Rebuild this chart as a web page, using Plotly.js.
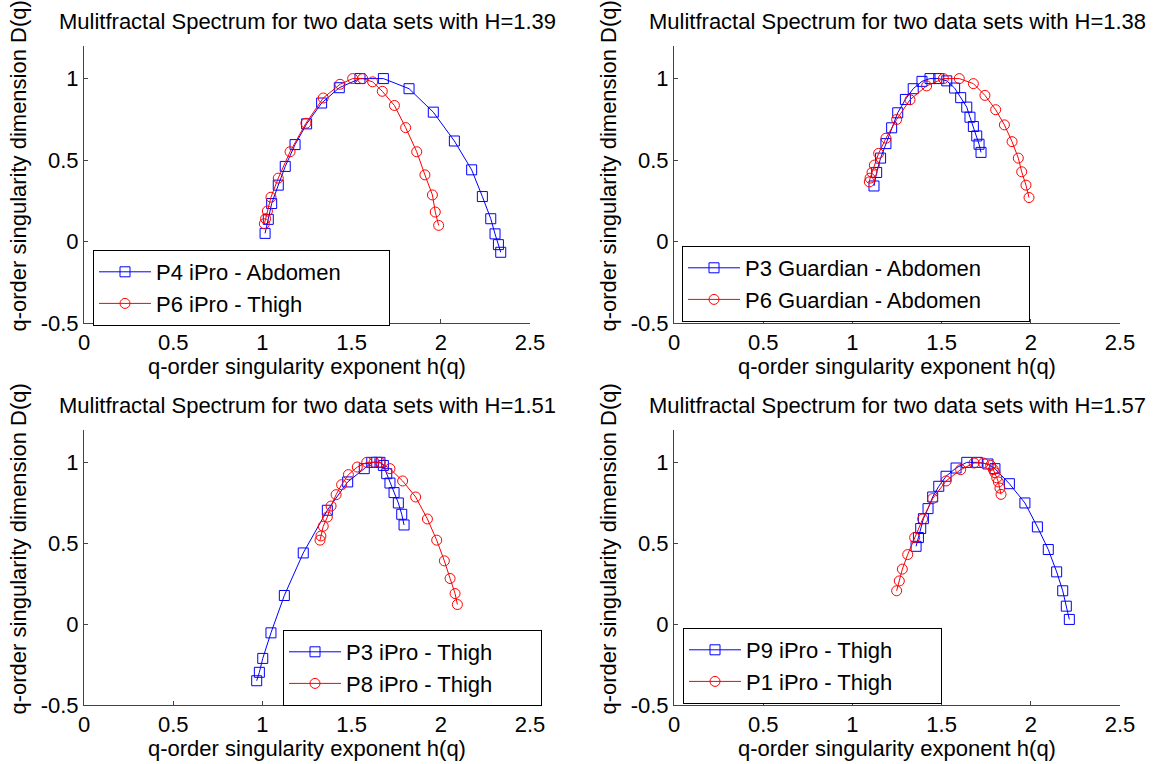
<!DOCTYPE html>
<html>
<head>
<meta charset="utf-8">
<script src="https://cdn.plot.ly/plotly-3.0.1.min.js"></script>
<style>html,body{margin:0;padding:0;background:#fff;}#chart{width:1156px;height:764px;}</style>
</head>
<body>
<div id="chart"></div>
<script>
// Panel titles and legend labels
const panelTitles = [
  "Mulitfractal Spectrum for two data sets with H=1.39",
  "Mulitfractal Spectrum for two data sets with H=1.38",
  "Mulitfractal Spectrum for two data sets with H=1.51",
  "Mulitfractal Spectrum for two data sets with H=1.57"
];
const blueNames = ["P4 iPro - Abdomen", "P3 Guardian - Abdomen", "P3 iPro - Thigh", "P9 iPro - Thigh"];
const redNames  = ["P6 iPro - Thigh", "P6 Guardian - Abdomen", "P8 iPro - Thigh", "P1 iPro - Thigh"];
const xTitle = "q-order singularity exponent h(q)";
const yTitle = "q-order singularity dimension D(q)";
const xTicks = [0, 0.5, 1, 1.5, 2, 2.5];
const yTicks = [-0.5, 0, 0.5, 1];

// Panel 1 (H=1.39)
const p1BlueH = [1.015,1.033,1.052,1.089,1.128,1.183,1.248,1.332,1.431,1.547,1.678,1.822,1.958,2.076,2.173,2.233,2.280,2.304,2.323,2.336];
const p1BlueD = [0.05,0.136,0.233,0.346,0.461,0.595,0.722,0.850,0.944,1.0,1.0,0.938,0.794,0.617,0.440,0.276,0.140,0.047,-0.019,-0.066];
const p1RedH  = [1.011,1.018,1.028,1.048,1.089,1.155,1.244,1.341,1.435,1.506,1.562,1.618,1.672,1.740,1.803,1.865,1.911,1.953,1.969,1.988];
const p1RedD  = [0.109,0.140,0.187,0.272,0.389,0.551,0.726,0.881,0.965,1.0,1.0,0.980,0.922,0.835,0.699,0.551,0.409,0.286,0.181,0.099];

// Panel 2 (H=1.38)
const p2BlueH = [1.121,1.136,1.158,1.188,1.220,1.254,1.297,1.341,1.390,1.435,1.484,1.529,1.573,1.607,1.641,1.659,1.678,1.697,1.710,1.721];
const p2BlueD = [0.341,0.424,0.512,0.601,0.698,0.790,0.872,0.938,0.983,1.0,1.0,0.986,0.942,0.883,0.825,0.763,0.706,0.648,0.597,0.547];
const p2RedH  = [1.095,1.099,1.110,1.123,1.147,1.188,1.248,1.323,1.416,1.510,1.599,1.678,1.743,1.803,1.852,1.895,1.930,1.949,1.973,1.990];
const p2RedD  = [0.366,0.389,0.424,0.469,0.541,0.634,0.749,0.870,0.955,1.0,1.0,0.969,0.897,0.809,0.716,0.613,0.512,0.428,0.346,0.270];

// Panel 3 (H=1.51)
const p3BlueH = [0.968,0.983,1.002,1.048,1.123,1.229,1.364,1.478,1.571,1.613,1.641,1.659,1.678,1.697,1.715,1.738,1.762,1.781,1.794];
const p3BlueD = [-0.350,-0.298,-0.212,-0.054,0.177,0.440,0.704,0.879,0.961,1.0,1.0,1.0,0.981,0.930,0.872,0.813,0.749,0.679,0.613];
const p3RedH  = [1.323,1.328,1.341,1.364,1.385,1.413,1.444,1.482,1.532,1.585,1.626,1.659,1.715,1.786,1.859,1.925,1.977,2.020,2.052,2.080,2.093];
const p3RedD  = [0.519,0.545,0.605,0.662,0.730,0.800,0.862,0.924,0.971,1.0,1.0,1.0,0.961,0.885,0.786,0.650,0.519,0.391,0.282,0.189,0.121];

// Panel 4 (H=1.57)
const p4BlueH = [1.357,1.370,1.383,1.398,1.424,1.450,1.484,1.525,1.581,1.641,1.700,1.760,1.799,1.880,1.967,2.037,2.098,2.145,2.179,2.199,2.216];
const p4BlueD = [0.481,0.535,0.591,0.652,0.714,0.786,0.852,0.914,0.965,1.0,1.0,0.99,0.961,0.868,0.749,0.601,0.461,0.323,0.206,0.111,0.029];
const p4RedH  = [1.248,1.263,1.280,1.310,1.349,1.394,1.450,1.525,1.607,1.682,1.734,1.775,1.790,1.799,1.809,1.818,1.827,1.833];
const p4RedD  = [0.206,0.267,0.340,0.430,0.535,0.650,0.776,0.885,0.955,0.996,0.996,0.981,0.955,0.936,0.905,0.879,0.841,0.802];

const blueH = [p1BlueH, p2BlueH, p3BlueH, p4BlueH];
const blueD = [p1BlueD, p2BlueD, p3BlueD, p4BlueD];
const redH  = [p1RedH, p2RedH, p3RedH, p4RedH];
const redD  = [p1RedD, p2RedD, p3RedD, p4RedD];

const W = 1156, H = 764;
const FONT = "Liberation Sans, Arial, sans-serif";
const FS = 22;
// pixel boxes of plot areas: [left, right, top, bottom]
const boxes = [[84,530,46,323],[674,1120,46,323],[84,530,430,705],[674,1120,430,705]];
const legendPos = [[93,250],[682,246],[283,630],[683,628]];
const PAD = "\u00a0\u00a0\u00a0\u00a0\u00a0\u00a0\u00a0";

const traces = [];
const layout = {
  width: W, height: H,
  margin: {l:0, r:0, t:0, b:0},
  paper_bgcolor: "#fff", plot_bgcolor: "#fff",
  font: {family: FONT, size: FS, color: "#000"},
  showlegend: true,
  annotations: []
};

for (let i = 0; i < 4; i++) {
  const sfx = i === 0 ? "" : String(i + 1);
  const lg = "legend" + sfx;
  traces.push({
    x: blueH[i], y: blueD[i], type: "scatter", mode: "lines+markers",
    name: blueNames[i] + PAD, xaxis: "x" + sfx, yaxis: "y" + sfx, legend: lg,
    line: {color: "#0000ff", width: 1},
    marker: {symbol: "square-open", size: 10, color: "#0000ff", line: {width: 1, color: "#0000ff"}}
  });
  traces.push({
    x: redH[i], y: redD[i], type: "scatter", mode: "lines+markers",
    name: redNames[i] + PAD, xaxis: "x" + sfx, yaxis: "y" + sfx, legend: lg,
    line: {color: "#ff0000", width: 1},
    marker: {symbol: "circle-open", size: 10, color: "#ff0000", line: {width: 1, color: "#ff0000"}}
  });
  const b = boxes[i];
  const axCommon = {
    showgrid: false, zeroline: false, showline: true, linecolor: "#444", linewidth: 1,
    ticks: "inside", ticklen: 4, tickcolor: "#444", tickwidth: 1,
    tickfont: {family: FONT, size: FS, color: "#000"}, fixedrange: true
  };
  layout["xaxis" + sfx] = Object.assign({}, axCommon, {
    domain: [b[0] / W, b[1] / W], range: [0, 2.5], tickvals: xTicks,
    ticktext: xTicks.map(String), anchor: "y" + sfx
  });
  layout["yaxis" + sfx] = Object.assign({}, axCommon, {
    domain: [(H - b[3]) / H, (H - b[2]) / H], range: [-0.5, 1.2], tickvals: yTicks,
    ticktext: yTicks.map(String), anchor: "x" + sfx
  });
  layout[lg] = {
    x: legendPos[i][0] / W, y: (H - legendPos[i][1]) / H, xanchor: "left", yanchor: "top",
    xref: "paper", yref: "paper", itemwidth: 52,
    bgcolor: "#fff", bordercolor: "#000", borderwidth: 1,
    font: {family: FONT, size: FS, color: "#000"}, tracegroupgap: 0
  };
  // panel title
  layout.annotations.push({
    text: panelTitles[i], xref: "paper", yref: "paper",
    x: (b[0] + b[1]) / 2 / W, y: (H - (b[2] - 24)) / H,
    xanchor: "center", yanchor: "middle", showarrow: false,
    font: {family: FONT, size: FS, color: "#000"}
  });
  // x title
  layout.annotations.push({
    text: xTitle, xref: "paper", yref: "paper",
    x: (b[0] + b[1]) / 2 / W, y: (H - (b[3] + 43)) / H,
    xanchor: "center", yanchor: "middle", showarrow: false,
    font: {family: FONT, size: FS, color: "#000"}
  });
  // y title
  layout.annotations.push({
    text: yTitle, xref: "paper", yref: "paper", textangle: -90,
    x: (b[0] - 66) / W, y: (H - (b[2] + b[3]) / 2 + 18) / H,
    xanchor: "center", yanchor: "middle", showarrow: false,
    font: {family: FONT, size: FS, color: "#000"}
  });
}

Plotly.newPlot("chart", traces, layout, {displayModeBar: false, staticPlot: true});
</script>
</body>
</html>
